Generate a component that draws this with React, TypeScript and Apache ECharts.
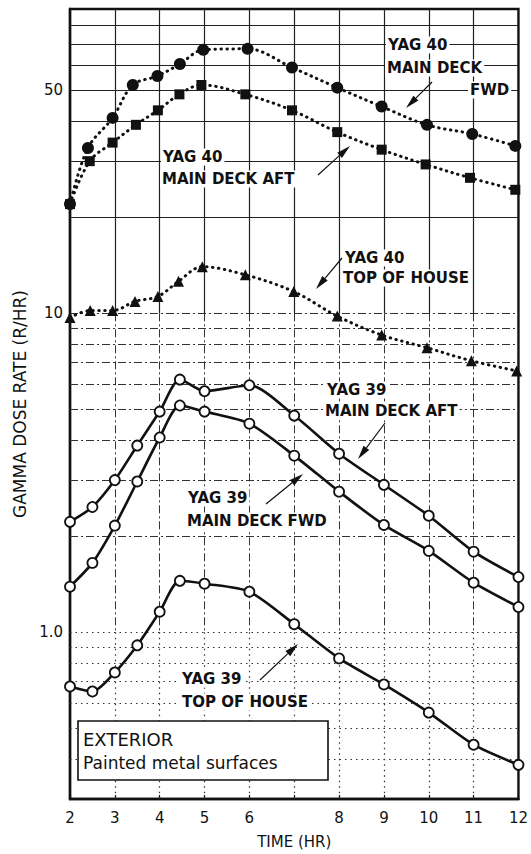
import React, { useEffect, useRef } from "react";
import * as echarts from "echarts";

// ---------- data ----------
const hoursY40Fwd = [2, 2.4, 2.95, 3.4, 3.95, 4.45, 4.97, 5.96, 6.95, 7.96, 8.95, 9.96, 10.97, 11.93];
const doseY40Fwd = [22, 33, 41, 52, 55.5, 60.5, 67, 67.5, 59, 51, 44.5, 39, 36.5, 33.5];

const hoursY40Aft = [2, 2.44, 2.95, 3.47, 3.96, 4.44, 4.93, 5.91, 6.95, 7.96, 8.95, 9.93, 10.92, 11.93];
const doseY40Aft = [22, 30, 34.3, 39, 43.3, 48.6, 52, 48.6, 43.3, 37, 32.6, 29.3, 26.6, 24.4];

const hoursY40Top = [2, 2.45, 2.95, 3.45, 3.96, 4.42, 4.95, 5.91, 6.99, 7.96, 8.95, 9.96, 10.95, 11.96];
const doseY40Top = [9.7, 10.2, 10.2, 10.9, 11.3, 12.6, 14.0, 13.2, 11.7, 9.8, 8.55, 7.8, 7.1, 6.6];

const hoursY39 = [2, 2.5, 3, 3.5, 4, 4.45, 5, 6, 7, 8, 9, 10, 11, 12];
const doseY39Aft = [2.22, 2.47, 3.0, 3.85, 4.92, 6.2, 5.7, 5.95, 4.78, 3.63, 2.9, 2.32, 1.79, 1.49];
const doseY39Fwd = [1.39, 1.65, 2.16, 2.97, 4.08, 5.14, 4.92, 4.51, 3.58, 2.76, 2.17, 1.8, 1.43, 1.2];
const doseY39Top = [0.676, 0.652, 0.748, 0.91, 1.16, 1.45, 1.42, 1.34, 1.06, 0.828, 0.686, 0.56, 0.444, 0.384];

const xTickLabels = ["2", "3", "4", "5", "6", "", "8", "9", "10", "11", "12"];
const yTickValues = [1, 10, 50];
const yTickLabels = ["1.0", "10", "50"];

const gridHours = [3, 4, 5, 6, 7, 8, 9, 10, 11];
const gridUpper = [20, 30, 40, 50, 60, 70, 80];
const gridMiddle = [2, 3, 4, 5, 6, 7, 8, 9, 10];
const gridLower = [0.4, 0.5, 0.6, 0.7, 0.8, 0.9, 1];

const X_MIN = 2;
const X_MAX = 12;
const Y_MIN = 0.3;
const Y_MAX = 90;

const zip = (xs: number[], ys: number[]) => xs.map((x, i) => [x, ys[i]]);

const FONT = "DejaVu Sans";
const INK = "#111";

function arrow(x1: number, y1: number, x2: number, y2: number) {
  const dx = x2 - x1;
  const dy = y2 - y1;
  const len = Math.sqrt(dx * dx + dy * dy);
  const ux = dx / len;
  const uy = dy / len;
  const hl = 14;
  const hw = 3.5;
  const bx = x2 - ux * hl;
  const by = y2 - uy * hl;
  return [
    {
      type: "line",
      shape: { x1, y1, x2: bx, y2: by },
      style: { stroke: INK, lineWidth: 1.2 },
      z: 20,
    },
    {
      type: "polygon",
      shape: {
        points: [
          [x2, y2],
          [bx - uy * hw, by + ux * hw],
          [bx + uy * hw, by - ux * hw],
        ],
      },
      style: { fill: INK },
      z: 20,
    },
  ];
}

function label(text: string, x: number, y: number, size = 15, weight: any = "bold") {
  return {
    type: "text",
    x,
    y,
    z: 19,
    style: {
      text,
      fill: INK,
      font: `${weight} ${size}px "${FONT}"`,
      textAlign: "left",
      textVerticalAlign: "middle",
      backgroundColor: "#fff",
      padding: [1, 2],
    },
  };
}

const dotted = { color: INK, width: 3, type: [0.5, 5.5], cap: "round" };
const solid = { color: INK, width: 2.6 };

function buildOption(): any {
  const gridLines: any[] = [];
  gridUpper.forEach((v) =>
    gridLines.push({ yAxis: v, lineStyle: { type: "solid", width: 1.2, color: "#222" } })
  );
  gridMiddle.forEach((v) =>
    gridLines.push({ yAxis: v, lineStyle: { type: [8, 3, 2, 3], width: 1, color: "#333" } })
  );
  gridLower.forEach((v) =>
    gridLines.push({ yAxis: v, lineStyle: { type: [1.5, 4], width: 1.2, color: "#333" } })
  );
  gridHours.forEach((h) => {
    gridLines.push([
      { coord: [h, Y_MAX], lineStyle: { type: "solid", width: 1.2, color: "#222" } },
      { coord: [h, 10] },
    ]);
    gridLines.push([
      { coord: [h, 10], lineStyle: { type: [8, 3, 2, 3], width: 1, color: "#333" } },
      { coord: [h, 1] },
    ]);
    gridLines.push([
      { coord: [h, 1], lineStyle: { type: [1.5, 4], width: 1.2, color: "#333" } },
      { coord: [h, Y_MIN] },
    ]);
  });

  const graphic: any[] = [
    label("YAG 40", 386, 45),
    label("MAIN DECK", 385, 68),
    label("FWD", 468, 90),
    label("YAG 40", 161, 157),
    label("MAIN DECK AFT", 160, 179),
    label("YAG 40", 343, 258),
    label("TOP OF HOUSE", 341, 278),
    label("YAG 39", 325, 390),
    label("MAIN DECK AFT", 323, 411),
    label("YAG 39", 186, 498),
    label("MAIN DECK FWD", 185, 521),
    label("YAG 39", 180, 679),
    label("TOP OF HOUSE", 180, 702),
    ...arrow(432, 82, 406, 108),
    ...arrow(318, 175, 350, 146),
    ...arrow(342, 258, 316, 289),
    ...arrow(385, 423, 358, 459),
    ...arrow(266, 504, 303, 474),
    ...arrow(260, 680, 298, 644),
    {
      type: "rect",
      shape: { x: 78, y: 721, width: 250, height: 59 },
      style: { fill: "#fff", stroke: INK, lineWidth: 1.6 },
      z: 18,
    },
    {
      type: "text",
      x: 83,
      y: 739,
      z: 19,
      style: {
        text: "EXTERIOR",
        fill: INK,
        font: `normal 18px "${FONT}"`,
        textAlign: "left",
        textVerticalAlign: "middle",
      },
    },
    {
      type: "text",
      x: 83,
      y: 763,
      z: 19,
      style: {
        text: "Painted metal surfaces",
        fill: INK,
        font: `normal 17px "${FONT}"`,
        textAlign: "left",
        textVerticalAlign: "middle",
      },
    },
  ];

  return {
    animation: false,
    backgroundColor: "#fff",
    textStyle: { fontFamily: FONT, color: INK },
    grid: {
      left: 70,
      right: 6,
      top: 9,
      bottom: 54,
      show: true,
      borderColor: INK,
      borderWidth: 2.4,
      backgroundColor: "transparent",
    },
    xAxis: {
      type: "value",
      min: X_MIN,
      max: X_MAX,
      interval: 1,
      name: "TIME (HR)",
      nameLocation: "middle",
      nameGap: 35,
      nameTextStyle: { fontSize: 15, fontFamily: FONT, color: INK },
      axisLine: { show: true, onZero: false, lineStyle: { color: INK, width: 2.4 } },
      axisTick: { show: true, inside: true, length: 4, lineStyle: { color: INK, width: 1.2 } },
      splitLine: { show: false },
      axisLabel: {
        margin: 11,
        fontSize: 15,
        fontFamily: FONT,
        color: INK,
        formatter: (v: number) => xTickLabels[Math.round(v) - X_MIN] ?? "",
      },
    },
    yAxis: {
      type: "log",
      logBase: 10,
      min: Y_MIN,
      max: Y_MAX,
      name: "GAMMA DOSE RATE (R/HR)",
      nameLocation: "middle",
      nameGap: 41,
      nameTextStyle: { fontSize: 17, fontFamily: FONT, color: INK },
      axisLine: { show: true, lineStyle: { color: INK, width: 2.4 } },
      axisTick: { show: false },
      splitLine: { show: false },
      minorSplitLine: { show: false },
      axisLabel: {
        margin: 7,
        fontSize: 15,
        fontFamily: FONT,
        color: INK,
        customValues: yTickValues,
        formatter: (v: number) => {
          const i = yTickValues.findIndex((t) => Math.abs(t - v) / t < 1e-6);
          return i >= 0 ? yTickLabels[i] : "";
        },
      },
    },
    series: [
      {
        name: "grid",
        type: "line",
        data: [],
        silent: true,
        z: 1,
        markLine: {
          silent: true,
          symbol: "none",
          label: { show: false },
          data: gridLines,
        },
      },
      {
        name: "YAG 40 MAIN DECK FWD",
        type: "line",
        data: zip(hoursY40Fwd, doseY40Fwd),
        smooth: 0.35,
        symbol: "circle",
        symbolSize: 12,
        itemStyle: { color: INK },
        lineStyle: dotted,
        z: 5,
      },
      {
        name: "YAG 40 MAIN DECK AFT",
        type: "line",
        data: zip(hoursY40Aft, doseY40Aft),
        smooth: 0.35,
        symbol: "rect",
        symbolSize: 10,
        itemStyle: { color: INK },
        lineStyle: dotted,
        z: 5,
      },
      {
        name: "YAG 40 TOP OF HOUSE",
        type: "line",
        data: zip(hoursY40Top, doseY40Top),
        smooth: 0.35,
        symbol: "triangle",
        symbolSize: 11,
        itemStyle: { color: INK },
        lineStyle: dotted,
        z: 5,
      },
      {
        name: "YAG 39 MAIN DECK AFT",
        type: "line",
        data: zip(hoursY39, doseY39Aft),
        smooth: 0.25,
        symbol: "circle",
        symbolSize: 10,
        itemStyle: { color: "#fff", borderColor: INK, borderWidth: 1.8 },
        lineStyle: solid,
        z: 5,
      },
      {
        name: "YAG 39 MAIN DECK FWD",
        type: "line",
        data: zip(hoursY39, doseY39Fwd),
        smooth: 0.25,
        symbol: "circle",
        symbolSize: 10,
        itemStyle: { color: "#fff", borderColor: INK, borderWidth: 1.8 },
        lineStyle: solid,
        z: 5,
      },
      {
        name: "YAG 39 TOP OF HOUSE",
        type: "line",
        data: zip(hoursY39, doseY39Top),
        smooth: 0.25,
        symbol: "circle",
        symbolSize: 10,
        itemStyle: { color: "#fff", borderColor: INK, borderWidth: 1.8 },
        lineStyle: solid,
        z: 5,
      },
    ],
    graphic,
  };
}

export default function App() {
  const ref = useRef<HTMLDivElement>(null);
  useEffect(() => {
    if (!ref.current) return;
    const chart = echarts.init(ref.current, null, { renderer: "svg" });
    chart.setOption(buildOption());
    return () => chart.dispose();
  }, []);
  return (
    <div
      ref={ref}
      style={{ position: "fixed", left: 0, top: 0, width: 531, height: 854, background: "#fff" }}
    />
  );
}
